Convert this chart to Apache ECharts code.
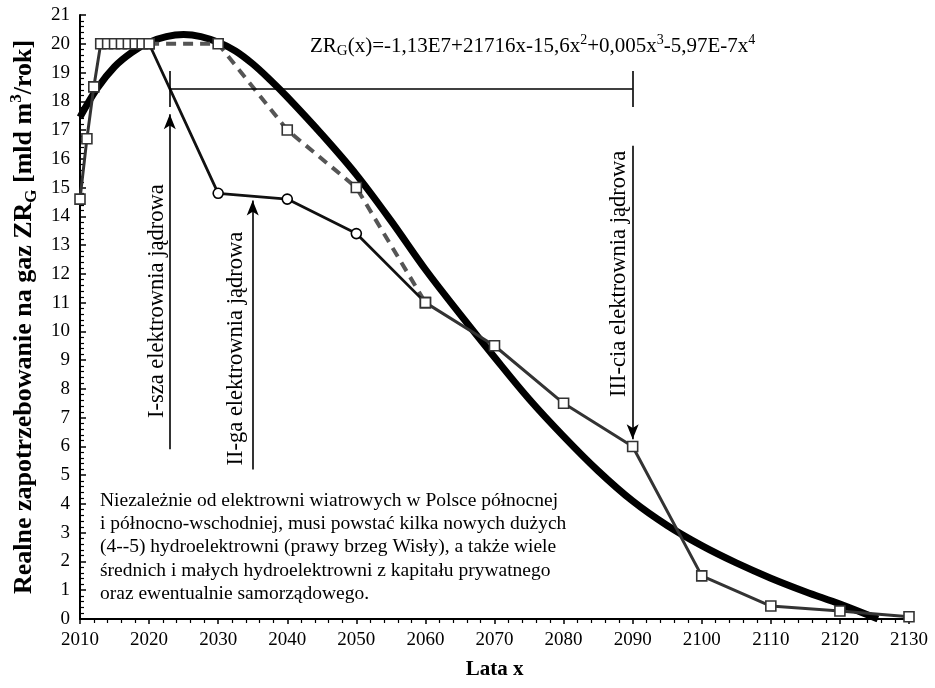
<!DOCTYPE html>
<html>
<head>
<meta charset="utf-8">
<script src="https://cdn.jsdelivr.net/npm/echarts@6/dist/echarts.min.js"></script>
<style>
html, body { margin: 0; padding: 0; background: #fff; }
#main { width: 935px; height: 688px; }
</style>
</head>
<body>
<div id="main"></div>
<script>
// krzywa aproksymacji ZR_G(x) (gruba linia)
var curveYears = [2010, 2012.5, 2015, 2017.5, 2020, 2022.5, 2025, 2027.5, 2030, 2032.5, 2035, 2037.5, 2040, 2045, 2050, 2055, 2060, 2065, 2070, 2075, 2080, 2085, 2090, 2095, 2100, 2105, 2110, 2115, 2120, 2125.5];
var curveValues = [17.45, 18.45, 19.2, 19.7, 20.05, 20.25, 20.32, 20.25, 20.05, 19.75, 19.3, 18.75, 18.15, 16.85, 15.45, 13.85, 12.15, 10.6, 9.1, 7.65, 6.35, 5.15, 4.1, 3.25, 2.55, 1.95, 1.42, 0.95, 0.52, 0];

// zapotrzebowanie - kwadraty, odcinek poczatkowy
var rampYears = [2010, 2011, 2012, 2013, 2014, 2015, 2016, 2017, 2018, 2019, 2020];
var rampValues = [14.6, 16.7, 18.5, 20, 20, 20, 20, 20, 20, 20, 20];

// wariant przerywany
var dashYears = [2020, 2030, 2040, 2050, 2060];
var dashValues = [20, 20, 17, 15, 11];

// wariant z kolkami (elektrownie jadrowe)
var circleYears = [2020, 2030, 2040, 2050, 2060];
var circleValues = [20, 14.8, 14.6, 13.4, 11];

// wspolny koniec - kwadraty
var tailYears = [2060, 2070, 2080, 2090, 2100, 2110, 2120, 2130];
var tailValues = [11, 9.5, 7.5, 6, 1.5, 0.45, 0.28, 0.08];

// strzalki [x1, y1, x2, y2] w jednostkach osi
var arrowSegments = [[2023, 5.9, 2023, 17.55], [2035, 5.2, 2035, 14.55], [2090, 16.45, 2090, 6.25]];
var bracketSegments = [[2023, 18.43, 2090, 18.43], [2023, 17.8, 2023, 19.05], [2090, 17.8, 2090, 19.05]];

// opisy pionowe [tekst, x, y]
var plantLabels = [
    ['I-sza elektrownia jądrowa', 2021.1, 11.05],
    ['II-ga elektrownia jądrowa', 2032.6, 9.4],
    ['III-cia elektrownia jądrowa', 2088.0, 12.0]
];

var noteLines = [
    'Niezależnie od elektrowni wiatrowych w Polsce północnej',
    'i północno-wschodniej, musi powstać kilka nowych dużych',
    '(4--5) hydroelektrowni (prawy brzeg Wisły), a także wiele',
    'średnich i małych hydroelektrowni z kapitału prywatnego',
    'oraz ewentualnie samorządowego.'
];

var serif = '"Liberation Serif", "Times New Roman", serif';

function pairs(xs, ys) {
    return xs.map(function (x, i) { return [x, ys[i]]; });
}

var markerStyle = { color: '#fff', borderColor: '#333', borderWidth: 1.6 };

var lineMarks = [];
arrowSegments.forEach(function (s) {
    lineMarks.push([{ coord: [s[0], s[1]], symbol: 'none' }, { coord: [s[2], s[3]], symbol: 'arrow' }]);
});
bracketSegments.forEach(function (s) {
    lineMarks.push([{ coord: [s[0], s[1]], symbol: 'none' }, { coord: [s[2], s[3]], symbol: 'none' }]);
});

var myChart = echarts.init(document.getElementById('main'));

var option = {
    animation: false,
    backgroundColor: '#fff',
    grid: { left: 75, right: 26, top: 15, bottom: 69 },
    xAxis: {
        type: 'value',
        min: 2010,
        max: 2130,
        interval: 10,
        name: 'Lata x',
        nameLocation: 'middle',
        nameGap: 40,
        nameTextStyle: { fontFamily: serif, fontSize: 21, fontWeight: 'bold', color: '#000' },
        axisLine: { lineStyle: { color: '#000', width: 2 } },
        axisTick: { show: true, inside: false, length: 5, lineStyle: { color: '#000', width: 1.5 } },
        minorTick: { show: true, splitNumber: 5, length: 4, lineStyle: { color: '#000', width: 1.2 } },
        axisLabel: { fontFamily: serif, fontSize: 19, color: '#000', margin: 12, formatter: function (v) { return String(v); } },
        splitLine: { show: false }
    },
    yAxis: {
        type: 'value',
        min: 0,
        max: 21,
        interval: 1,
        name: '{b|Realne zapotrzebowanie na gaz ZR}{bs|G}{b| [mld m}{bp|3}{b|/rok]}',
        nameLocation: 'middle',
        nameRotate: 90,
        nameGap: 40,
        nameTextStyle: {
            fontFamily: serif, color: '#000',
            rich: {
                b: { fontFamily: serif, fontSize: 26, fontWeight: 'bold', color: '#000', lineHeight: 32, verticalAlign: 'middle' },
                bs: { fontFamily: serif, fontSize: 17, fontWeight: 'bold', color: '#000', lineHeight: 32, verticalAlign: 'bottom' },
                bp: { fontFamily: serif, fontSize: 17, fontWeight: 'bold', color: '#000', lineHeight: 32, verticalAlign: 'top' }
            }
        },
        axisLine: { show: true, lineStyle: { color: '#000', width: 2 } },
        axisTick: { show: true, inside: true, length: 6, lineStyle: { color: '#000', width: 1.5 } },
        minorTick: { show: true, splitNumber: 5, length: 4, lineStyle: { color: '#000', width: 1.2 } },
        axisLabel: { fontFamily: serif, fontSize: 19, color: '#000', margin: 10 },
        splitLine: { show: false }
    },
    series: [
        {
            name: 'ZRG',
            type: 'line',
            data: pairs(curveYears, curveValues),
            smooth: 0.35,
            showSymbol: false,
            lineStyle: { color: '#000', width: 7 },
            z: 2
        },
        {
            name: 'dash',
            type: 'line',
            data: pairs(dashYears, dashValues),
            symbol: 'rect',
            symbolSize: 10,
            itemStyle: markerStyle,
            lineStyle: { color: '#555', width: 4, type: [10, 7] },
            z: 3
        },
        {
            name: 'circles',
            type: 'line',
            data: pairs(circleYears, circleValues).map(function (p, i) {
                var end = i === 0 || i === circleYears.length - 1;
                return { value: p, symbol: end ? 'none' : 'circle' };
            }),
            symbolSize: 10,
            itemStyle: { color: '#fff', borderColor: '#000', borderWidth: 1.6 },
            lineStyle: { color: '#111', width: 2.8 },
            z: 4
        },
        {
            name: 'ramp',
            type: 'line',
            data: pairs(rampYears, rampValues),
            symbol: 'rect',
            symbolSize: 10,
            itemStyle: markerStyle,
            lineStyle: { color: '#333', width: 3 },
            z: 5
        },
        {
            name: 'tail',
            type: 'line',
            data: pairs(tailYears, tailValues),
            symbol: 'rect',
            symbolSize: 10,
            itemStyle: markerStyle,
            lineStyle: { color: '#333', width: 3 },
            z: 5
        },
        {
            name: 'annot',
            type: 'line',
            data: [],
            markLine: {
                silent: true,
                animation: false,
                symbolSize: [9, 15],
                label: { show: false },
                lineStyle: { color: '#000', width: 1.6, type: 'solid' },
                emphasis: { disabled: true },
                data: lineMarks
            },
            z: 6
        }
    ]
};

myChart.setOption(option);

// teksty opisowe
var graphics = [];
plantLabels.forEach(function (l) {
    var p = myChart.convertToPixel({ xAxisIndex: 0, yAxisIndex: 0 }, [l[1], l[2]]);
    graphics.push({
        type: 'text',
        x: p[0],
        y: p[1],
        rotation: Math.PI / 2,
        style: { text: l[0], fontFamily: serif, fontSize: 22.5, fill: '#000', align: 'center', verticalAlign: 'middle' },
        z: 10
    });
});

graphics.push({
    type: 'text',
    x: 310,
    y: 46,
    style: {
        text: '{n|ZR}{s|G}{n|(x)=-1,13E7+21716x-15,6x}{p|2}{n|+0,005x}{p|3}{n|-5,97E-7x}{p|4}',
        verticalAlign: 'middle',
        rich: {
            n: { fontFamily: serif, fontSize: 21, fill: '#000', lineHeight: 26, verticalAlign: 'middle' },
            s: { fontFamily: serif, fontSize: 15, fill: '#000', lineHeight: 26, verticalAlign: 'bottom' },
            p: { fontFamily: serif, fontSize: 14, fill: '#000', lineHeight: 26, verticalAlign: 'top' }
        }
    },
    z: 10
});

graphics.push({
    type: 'text',
    x: 100,
    y: 489,
    style: { text: noteLines.join('\n'), fontFamily: serif, fontSize: 19.5, lineHeight: 23.3, fill: '#000', align: 'left', verticalAlign: 'top' },
    z: 10
});

myChart.setOption({ graphic: graphics });
</script>
</body>
</html>
